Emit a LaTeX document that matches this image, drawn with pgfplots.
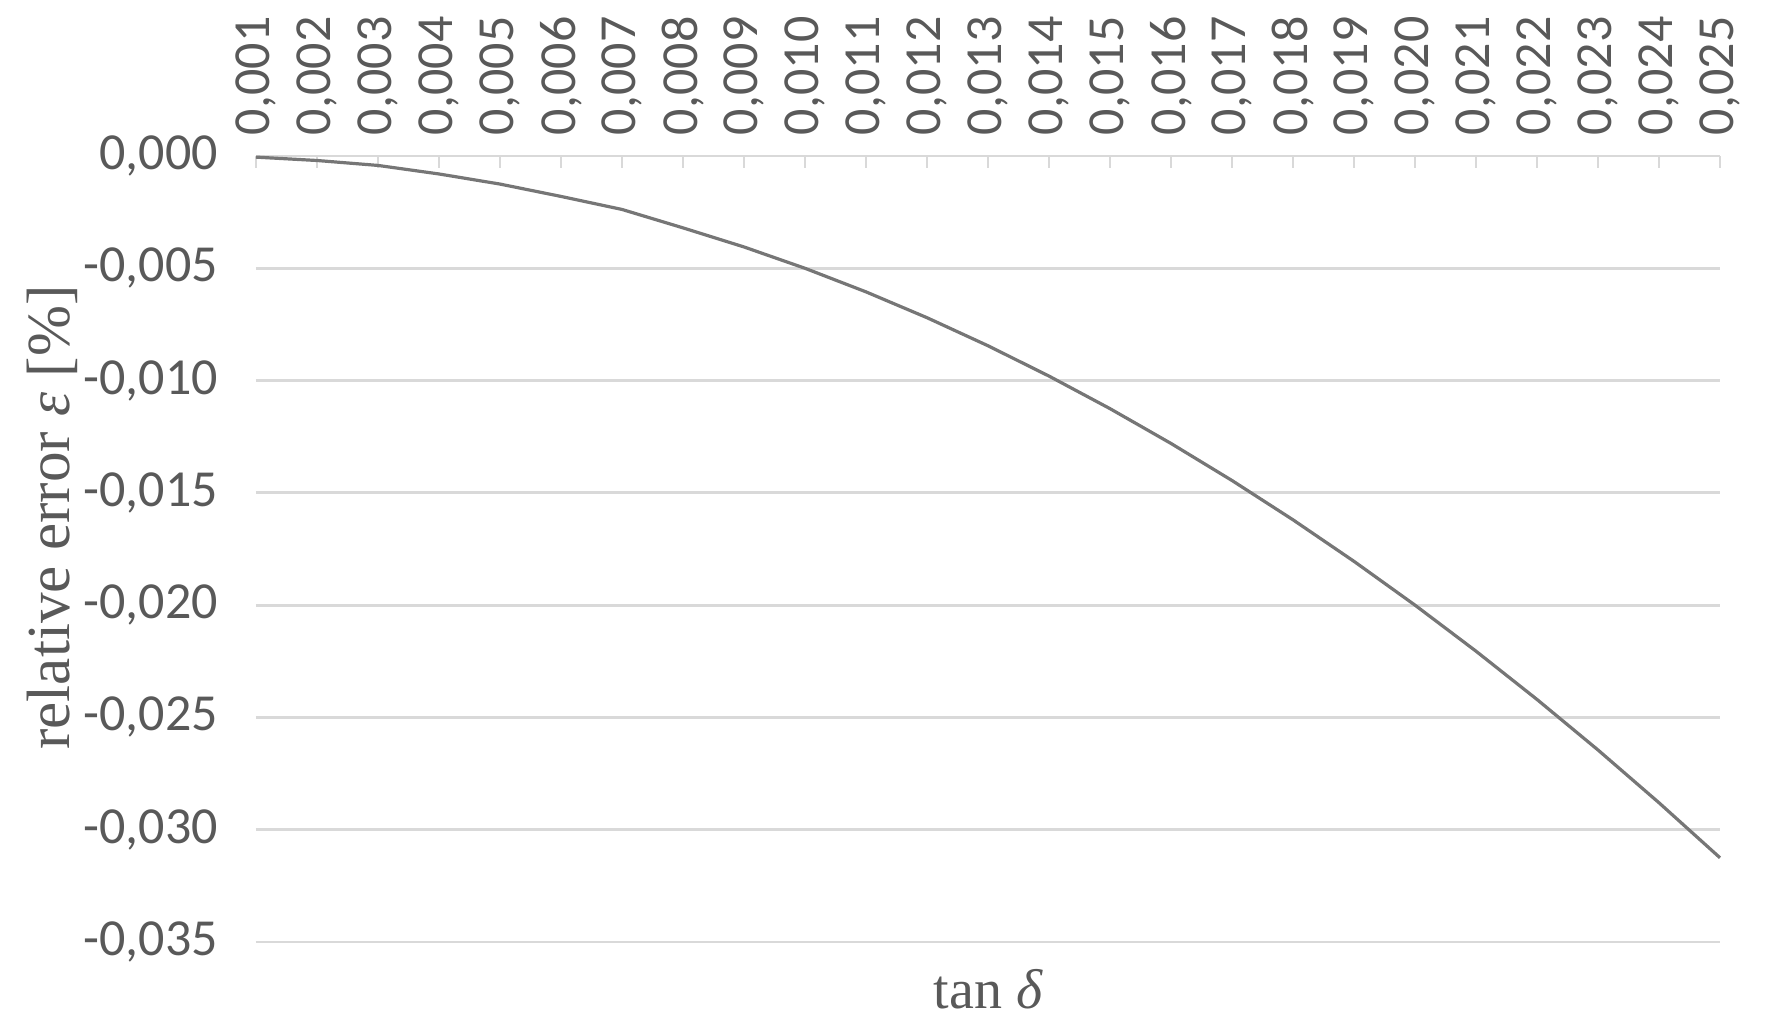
\documentclass[border=0pt]{standalone}
\usepackage{pgfplots}
\pgfplotsset{compat=1.18}
\usepackage{fontspec}
\setmainfont{Liberation Serif}
\newfontfamily\tickfont{Carlito}
\definecolor{txtgrey}{HTML}{595959}
\definecolor{gridgrey}{HTML}{D9D9D9}
\definecolor{linegrey}{HTML}{767676}
\begin{document}
\begin{tikzpicture}
\begin{axis}[
  scale only axis,
  width=366pt, height=196.5pt,
  xmin=0.001, xmax=0.025,
  ymin=-0.035, ymax=0,
  xtick={0.001,0.002,...,0.025},
  ytick={-0.035,-0.030,...,0.0},
  axis line style={draw=none},
  xtick pos=upper, xticklabel pos=upper,
  ytick pos=lower, yticklabel pos=lower,
  xtick align=inside,
  major tick length=3pt,
  xtick style={draw=gridgrey, line width=0.7pt},
  ytick style={draw=none},
  ymajorgrids,
  grid style={draw=gridgrey, line width=0.7pt},
  /pgf/number format/.cd, fixed, fixed zerofill, precision=3, use comma, assume math mode=true,
  /pgfplots/.cd,
  xticklabel style={font=\tickfont\fontsize{13}{15}\selectfont, text=txtgrey, rotate=90, anchor=west, xshift=1.7pt},
  yticklabel style={font=\tickfont\fontsize{13}{15}\selectfont, text=txtgrey, anchor=east, xshift=-6pt},
  scaled x ticks=false, scaled y ticks=false,
  xlabel={tan {\itshape δ}},
  ylabel={relative error {\itshape ε} [\%]},
  xlabel style={font=\fontsize{14}{16}\selectfont, text=txtgrey, at={(axis description cs:0.5,0)}, anchor=center, yshift=-11.7pt},
  ylabel style={font=\fontsize{15.3}{17}\selectfont, text=txtgrey, at={(axis description cs:0,0.54)}, anchor=center, yshift=51pt},
  clip=false,
]
\addplot[linegrey, line width=0.8pt] coordinates {
  (0.001,-0.00005) (0.002,-0.0002) (0.003,-0.00042) (0.004,-0.0008)
  (0.005,-0.00125) (0.006,-0.0018) (0.007,-0.00238) (0.008,-0.0032)
  (0.009,-0.00405) (0.010,-0.0050) (0.011,-0.00605) (0.012,-0.0072)
  (0.013,-0.00845) (0.014,-0.0098) (0.015,-0.01125) (0.016,-0.0128)
  (0.017,-0.01445) (0.018,-0.0162) (0.019,-0.01805) (0.020,-0.0200)
  (0.021,-0.02205) (0.022,-0.0242) (0.023,-0.02645) (0.024,-0.0288)
  (0.025,-0.03125)
};
\path (rel axis cs:0,0) ++(-64pt,-23.5pt) coordinate (bl);
\path (rel axis cs:1,1) ++(12pt,39pt) coordinate (tr);
\end{axis}
\path (bl) rectangle (tr);
\end{tikzpicture}
\end{document}
